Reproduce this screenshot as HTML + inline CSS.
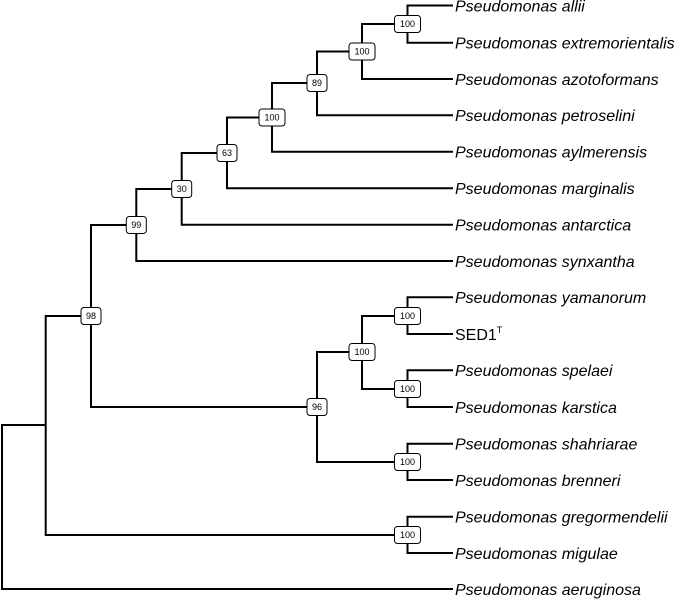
<!DOCTYPE html>
<html><head><meta charset="utf-8"><style>
html,body{margin:0;padding:0;background:#fff;}
svg{display:block;}
.l{font-family:"Liberation Sans",Arial,sans-serif;font-size:16px;font-style:italic;fill:#000;}
.s{font-family:"Liberation Sans",Arial,sans-serif;font-size:16px;fill:#000;}
.b{fill:#fff;stroke:#000;stroke-width:1;}
.n{font-family:"Liberation Sans",Arial,sans-serif;font-size:9px;fill:#000;text-anchor:middle;}
</style></head><body>
<svg width="680" height="599" viewBox="0 0 680 599" xmlns="http://www.w3.org/2000/svg">
<g fill="none" stroke="#000" stroke-width="2">
<path d="M453 5.5H407.5V42.7H453"/>
<path d="M407.5 24H362V79H453"/>
<path d="M362 51.5H317V115.3H453"/>
<path d="M317 83H272V151.7H453"/>
<path d="M272 117.5H227V188.3H453"/>
<path d="M227 153H181.7V224.7H453"/>
<path d="M181.7 189H136.3V261H453"/>
<path d="M136.3 225H91V407H317"/>
<path d="M453 297.3H407.5V334H453"/>
<path d="M453 370.3H407.5V407H453"/>
<path d="M407.5 316H362V389H407.5"/>
<path d="M362 352H317V462H407.5"/>
<path d="M453 443.7H407.5V480H453"/>
<path d="M453 516.7H407.5V553H453"/>
<path d="M91 316H45.7V535H407.5"/>
<path d="M45.7 425H2V589H453"/>
</g>
<g>
<rect class="b" x="394.5" y="15.5" width="26" height="17" rx="3"/><text class="n" x="407.5" y="27.2">100</text>
<rect class="b" x="349" y="43" width="26" height="17" rx="3"/><text class="n" x="362" y="54.7">100</text>
<rect class="b" x="307" y="74.5" width="20" height="17" rx="3"/><text class="n" x="317" y="86.2">89</text>
<rect class="b" x="259" y="109" width="26" height="17" rx="3"/><text class="n" x="272" y="120.7">100</text>
<rect class="b" x="217" y="144.5" width="20" height="17" rx="3"/><text class="n" x="227" y="156.2">63</text>
<rect class="b" x="171.7" y="180.5" width="20" height="17" rx="3"/><text class="n" x="181.7" y="192.2">30</text>
<rect class="b" x="126.3" y="216.5" width="20" height="17" rx="3"/><text class="n" x="136.3" y="228.2">99</text>
<rect class="b" x="81" y="307.5" width="20" height="17" rx="3"/><text class="n" x="91" y="319.2">98</text>
<rect class="b" x="394.5" y="307.5" width="26" height="17" rx="3"/><text class="n" x="407.5" y="319.2">100</text>
<rect class="b" x="349" y="343.5" width="26" height="17" rx="3"/><text class="n" x="362" y="355.2">100</text>
<rect class="b" x="394.5" y="380.5" width="26" height="17" rx="3"/><text class="n" x="407.5" y="392.2">100</text>
<rect class="b" x="307" y="398.5" width="20" height="17" rx="3"/><text class="n" x="317" y="410.2">96</text>
<rect class="b" x="394.5" y="453.5" width="26" height="17" rx="3"/><text class="n" x="407.5" y="465.2">100</text>
<rect class="b" x="394.5" y="526.5" width="26" height="17" rx="3"/><text class="n" x="407.5" y="538.2">100</text>
</g>
<g>
<text class="l" x="455" y="11.5">Pseudomonas allii</text>
<text class="l" x="455" y="48.5">Pseudomonas extremorientalis</text>
<text class="l" x="455" y="85">Pseudomonas azotoformans</text>
<text class="l" x="455" y="121">Pseudomonas petroselini</text>
<text class="l" x="455" y="157.5">Pseudomonas aylmerensis</text>
<text class="l" x="455" y="194">Pseudomonas marginalis</text>
<text class="l" x="455" y="230.5">Pseudomonas antarctica</text>
<text class="l" x="455" y="267">Pseudomonas synxantha</text>
<text class="l" x="455" y="303">Pseudomonas yamanorum</text>
<text class="s" x="455" y="340">SED1<tspan font-size="9" dy="-7">T</tspan></text>
<text class="l" x="455" y="376">Pseudomonas spelaei</text>
<text class="l" x="455" y="413">Pseudomonas karstica</text>
<text class="l" x="455" y="449.5">Pseudomonas shahriarae</text>
<text class="l" x="455" y="486">Pseudomonas brenneri</text>
<text class="l" x="455" y="522.5">Pseudomonas gregormendelii</text>
<text class="l" x="455" y="559">Pseudomonas migulae</text>
<text class="l" x="455" y="595">Pseudomonas aeruginosa</text>
</g>
</svg>
</body></html>
